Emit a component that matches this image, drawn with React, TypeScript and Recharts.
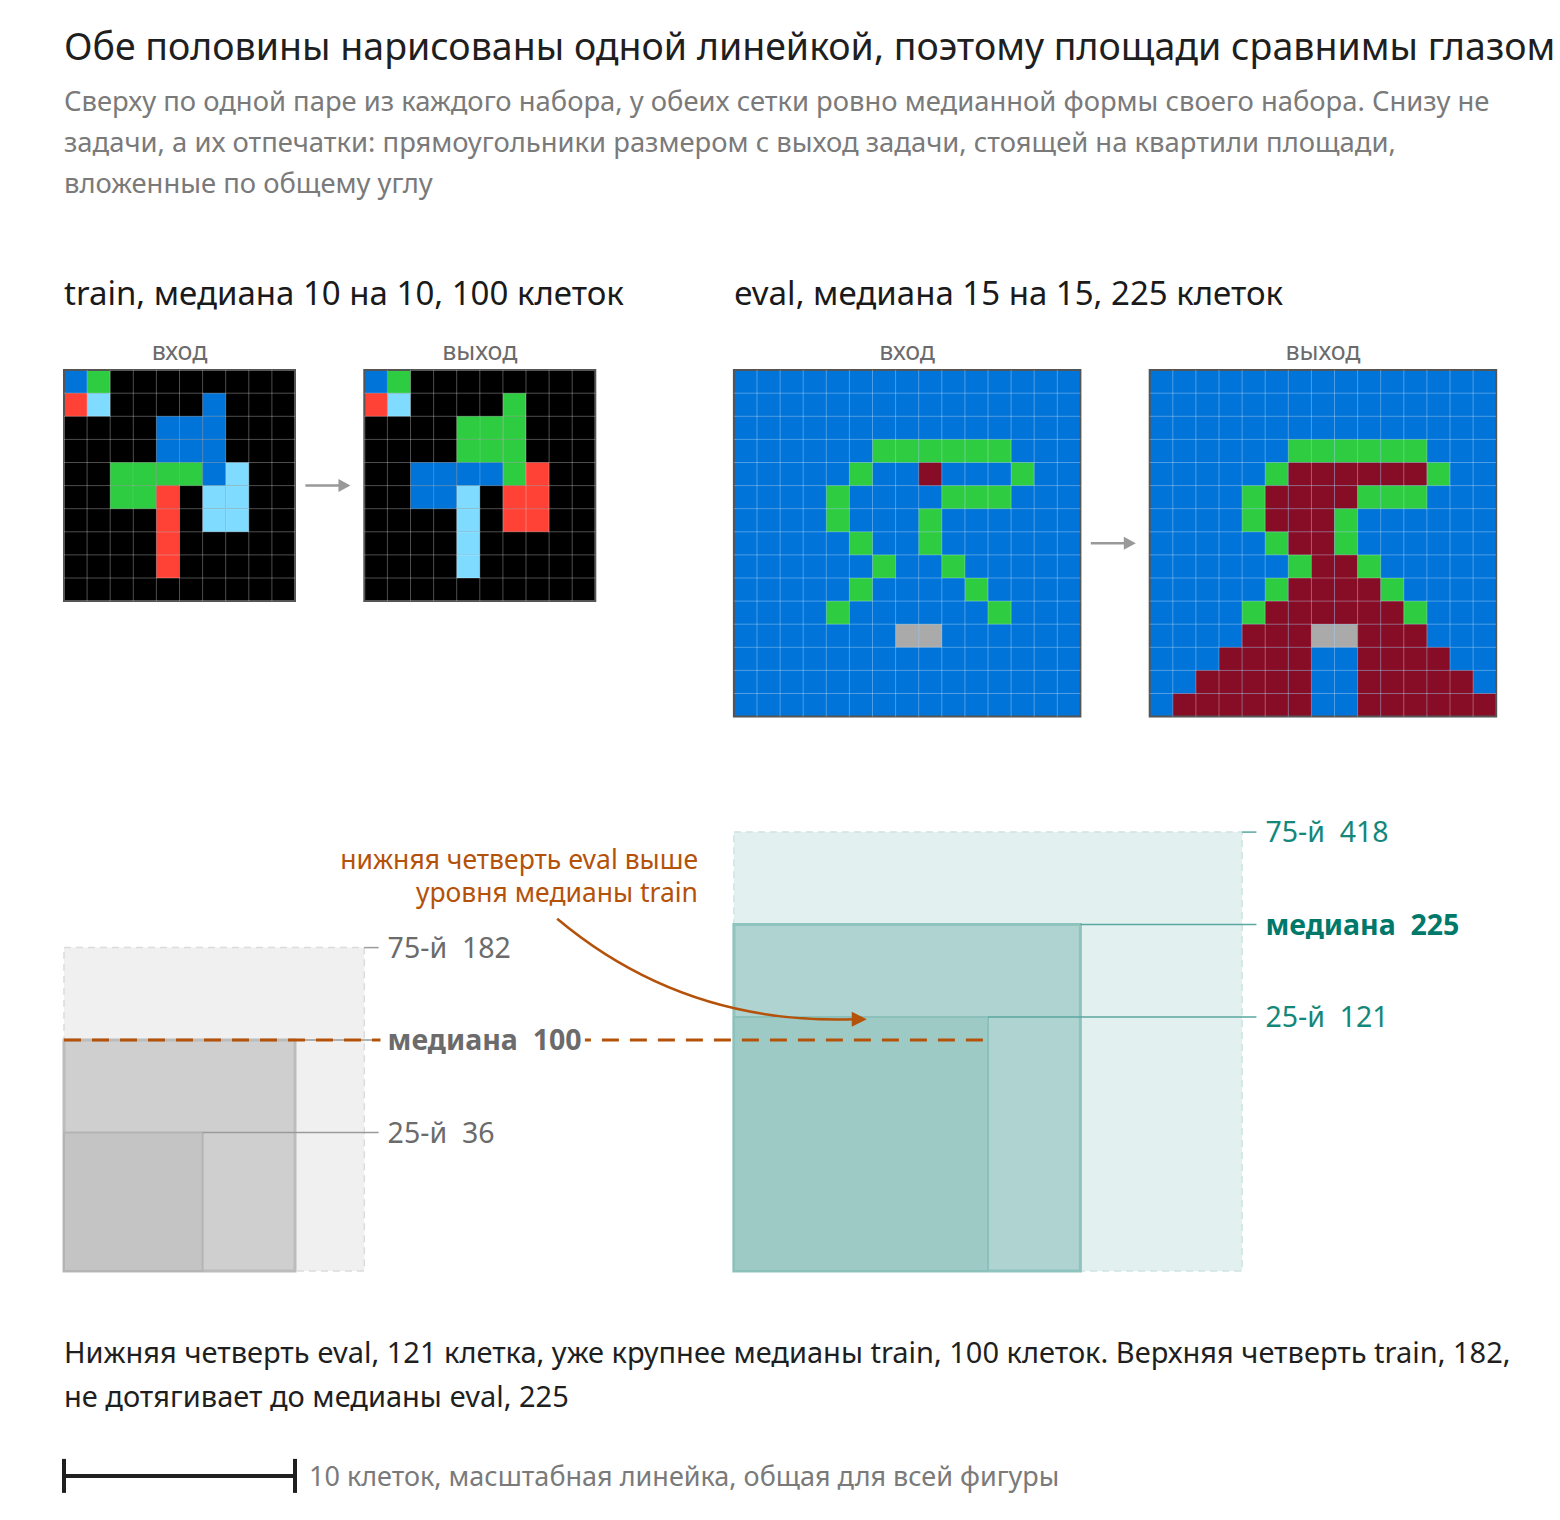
import React from 'react';
import { ComposedChart, XAxis, YAxis, ReferenceArea, ReferenceLine } from 'recharts';

const FONT = '"Noto Sans", "Open Sans", sans-serif';
const W = 1560;
const H = 1520;
const CELL = 23.1; // px per grid cell, one ruler for the whole figure
const LEFT = 64; // px where x = 0
const BASE = 1271; // px where y = 0 (floor of the footprints)

// ARC colour codes
const PALETTE: Record<number, string> = {
  0: '#000000',
  1: '#0074d9',
  2: '#ff4136',
  3: '#2ecc40',
  5: '#aaaaaa',
  8: '#7fdbff',
  9: '#870c25',
};

const trainInput = [
  [1, 3, 0, 0, 0, 0, 0, 0, 0, 0],
  [2, 8, 0, 0, 0, 0, 1, 0, 0, 0],
  [0, 0, 0, 0, 1, 1, 1, 0, 0, 0],
  [0, 0, 0, 0, 1, 1, 1, 0, 0, 0],
  [0, 0, 3, 3, 3, 3, 1, 8, 0, 0],
  [0, 0, 3, 3, 2, 0, 8, 8, 0, 0],
  [0, 0, 0, 0, 2, 0, 8, 8, 0, 0],
  [0, 0, 0, 0, 2, 0, 0, 0, 0, 0],
  [0, 0, 0, 0, 2, 0, 0, 0, 0, 0],
  [0, 0, 0, 0, 0, 0, 0, 0, 0, 0],
];

const trainOutput = [
  [1, 3, 0, 0, 0, 0, 0, 0, 0, 0],
  [2, 8, 0, 0, 0, 0, 3, 0, 0, 0],
  [0, 0, 0, 0, 3, 3, 3, 0, 0, 0],
  [0, 0, 0, 0, 3, 3, 3, 0, 0, 0],
  [0, 0, 1, 1, 1, 1, 3, 2, 0, 0],
  [0, 0, 1, 1, 8, 0, 2, 2, 0, 0],
  [0, 0, 0, 0, 8, 0, 2, 2, 0, 0],
  [0, 0, 0, 0, 8, 0, 0, 0, 0, 0],
  [0, 0, 0, 0, 8, 0, 0, 0, 0, 0],
  [0, 0, 0, 0, 0, 0, 0, 0, 0, 0],
];

const evalInput = [
  [1, 1, 1, 1, 1, 1, 1, 1, 1, 1, 1, 1, 1, 1, 1],
  [1, 1, 1, 1, 1, 1, 1, 1, 1, 1, 1, 1, 1, 1, 1],
  [1, 1, 1, 1, 1, 1, 1, 1, 1, 1, 1, 1, 1, 1, 1],
  [1, 1, 1, 1, 1, 1, 3, 3, 3, 3, 3, 3, 1, 1, 1],
  [1, 1, 1, 1, 1, 3, 1, 1, 9, 1, 1, 1, 3, 1, 1],
  [1, 1, 1, 1, 3, 1, 1, 1, 1, 3, 3, 3, 1, 1, 1],
  [1, 1, 1, 1, 3, 1, 1, 1, 3, 1, 1, 1, 1, 1, 1],
  [1, 1, 1, 1, 1, 3, 1, 1, 3, 1, 1, 1, 1, 1, 1],
  [1, 1, 1, 1, 1, 1, 3, 1, 1, 3, 1, 1, 1, 1, 1],
  [1, 1, 1, 1, 1, 3, 1, 1, 1, 1, 3, 1, 1, 1, 1],
  [1, 1, 1, 1, 3, 1, 1, 1, 1, 1, 1, 3, 1, 1, 1],
  [1, 1, 1, 1, 1, 1, 1, 5, 5, 1, 1, 1, 1, 1, 1],
  [1, 1, 1, 1, 1, 1, 1, 1, 1, 1, 1, 1, 1, 1, 1],
  [1, 1, 1, 1, 1, 1, 1, 1, 1, 1, 1, 1, 1, 1, 1],
  [1, 1, 1, 1, 1, 1, 1, 1, 1, 1, 1, 1, 1, 1, 1],
];

const evalOutput = [
  [1, 1, 1, 1, 1, 1, 1, 1, 1, 1, 1, 1, 1, 1, 1],
  [1, 1, 1, 1, 1, 1, 1, 1, 1, 1, 1, 1, 1, 1, 1],
  [1, 1, 1, 1, 1, 1, 1, 1, 1, 1, 1, 1, 1, 1, 1],
  [1, 1, 1, 1, 1, 1, 3, 3, 3, 3, 3, 3, 1, 1, 1],
  [1, 1, 1, 1, 1, 3, 9, 9, 9, 9, 9, 9, 3, 1, 1],
  [1, 1, 1, 1, 3, 9, 9, 9, 9, 3, 3, 3, 1, 1, 1],
  [1, 1, 1, 1, 3, 9, 9, 9, 3, 1, 1, 1, 1, 1, 1],
  [1, 1, 1, 1, 1, 3, 9, 9, 3, 1, 1, 1, 1, 1, 1],
  [1, 1, 1, 1, 1, 1, 3, 9, 9, 3, 1, 1, 1, 1, 1],
  [1, 1, 1, 1, 1, 3, 9, 9, 9, 9, 3, 1, 1, 1, 1],
  [1, 1, 1, 1, 3, 9, 9, 9, 9, 9, 9, 3, 1, 1, 1],
  [1, 1, 1, 1, 9, 9, 9, 5, 5, 9, 9, 9, 1, 1, 1],
  [1, 1, 1, 9, 9, 9, 9, 1, 1, 9, 9, 9, 9, 1, 1],
  [1, 1, 9, 9, 9, 9, 9, 1, 1, 9, 9, 9, 9, 9, 1],
  [1, 9, 9, 9, 9, 9, 9, 1, 1, 9, 9, 9, 9, 9, 9],
];

// footprints: 25th percentile, median, 75th percentile of output area
const quartileNames = ['25-й', 'медиана', '75-й'];
const trainAreas = [36, 100, 182];
const trainWidths = [6, 10, 13];
const trainHeights = [6, 10, 14];
const evalAreas = [121, 225, 418];
const evalWidths = [11, 15, 22];
const evalHeights = [11, 15, 19];

const scaleCells = 10;

// layout, in cells
const GRID_TOP = 39;
const TRAIN_X = 0;
const EVAL_X = 29;
const PAIR_GAP = 3;
const SCALE_Y = -8.87;

const ORANGE = '#b5520a';

const trainStyle = {
  fills: ['#c4c4c4', '#cfcfcf', '#f0f0f0'],
  strokes: ['#b4b4b4', '#bcbcbc', '#dcdcdc'],
  leader: '#9a9a9a',
  text: '#6b6b6b',
  bold: '#6b6b6b',
};
const evalStyle = {
  fills: ['#9ecac6', '#afd3d1', '#e3f0f0'],
  strokes: ['#8bc0bb', '#8ec3be', '#cfe4e2'],
  leader: '#5aa79f',
  text: '#14877a',
  bold: '#00796b',
};

function mostCommon(cells: number[][]) {
  const counts: Record<number, number> = {};
  cells.flat().forEach((v) => {
    counts[v] = (counts[v] || 0) + 1;
  });
  return Number(Object.keys(counts).sort((a, b) => counts[+b] - counts[+a])[0]);
}

function gridMarks(key: string, cells: number[][], x0: number, caption: string) {
  const n = cells.length;
  const top = GRID_TOP;
  const bottom = GRID_TOP - n;
  const bg = mostCommon(cells);
  const out: React.ReactElement[] = [];
  out.push(
    <ReferenceArea key={`${key}-bg`} x1={x0} x2={x0 + n} y1={bottom} y2={top}
      fill={PALETTE[bg]} fillOpacity={1} stroke="none" ifOverflow="visible" />,
  );
  cells.forEach((row, r) =>
    row.forEach((v, c) => {
      if (v === bg) return;
      out.push(
        <ReferenceArea key={`${key}-${r}-${c}`} x1={x0 + c} x2={x0 + c + 1} y1={top - r - 1} y2={top - r}
          fill={PALETTE[v]} fillOpacity={1} stroke="none" ifOverflow="visible" />,
      );
    }),
  );
  for (let i = 1; i < n; i++) {
    out.push(
      <ReferenceLine key={`${key}-v${i}`} segment={[{ x: x0 + i, y: bottom }, { x: x0 + i, y: top }]}
        stroke="#ffffff" strokeOpacity={0.3} strokeWidth={1} ifOverflow="visible" />,
    );
    out.push(
      <ReferenceLine key={`${key}-h${i}`} segment={[{ x: x0, y: top - i }, { x: x0 + n, y: top - i }]}
        stroke="#ffffff" strokeOpacity={0.3} strokeWidth={1} ifOverflow="visible" />,
    );
  }
  out.push(
    <ReferenceArea key={`${key}-frame`} x1={x0} x2={x0 + n} y1={bottom} y2={top}
      fill="none" fillOpacity={0} stroke="#555555" strokeWidth={2} ifOverflow="visible"
      label={{ value: caption, position: 'top', offset: 10, fill: '#6b6b6b', fontSize: 25, fontFamily: FONT }} />,
  );
  return out;
}

const StepArrow = (p: any) => {
  const { x1, y1, x2, y2 } = p;
  return (
    <g>
      <line x1={x1} y1={y1} x2={x2 - 8} y2={y2} stroke="#999999" strokeWidth={2.5} />
      <path d={`M${x2},${y2} L${x2 - 12},${y2 - 6.5} L${x2 - 12},${y2 + 6.5} Z`} fill="#999999" />
    </g>
  );
};

function pairMarks(key: string, input: number[][], output: number[][], x0: number) {
  const n = input.length;
  const xOut = x0 + n + PAIR_GAP;
  const mid = GRID_TOP - n / 2;
  return [
    ...gridMarks(`${key}-in`, input, x0, 'вход'),
    ...gridMarks(`${key}-out`, output, xOut, 'выход'),
    <ReferenceLine key={`${key}-step`} segment={[{ x: x0 + n + 0.45, y: mid }, { x: xOut - 0.6, y: mid }]}
      shape={StepArrow} ifOverflow="visible" />,
  ];
}

const QuartileLabel = (p: any) => {
  const vb = p.viewBox || {};
  return (
    <text x={vb.x + vb.width + 9} y={vb.y} dy="0.36em" fill={p.color} fontSize={28.5}
      fontWeight={p.bold ? 700 : 400} fontFamily={FONT}>
      {`${p.name}\u00a0\u00a0${p.area}`}
    </text>
  );
};

function footprintMarks(key: string, x0: number, widths: number[], heights: number[], areas: number[], style: typeof trainStyle) {
  const out: React.ReactElement[] = [];
  const maxW = Math.max(...widths);
  [2, 1, 0].forEach((i) => {
    out.push(
      <ReferenceArea key={`${key}-r${i}`} x1={x0} x2={x0 + widths[i]} y1={0} y2={heights[i]}
        fill={style.fills[i]} fillOpacity={1} stroke={style.strokes[i]}
        strokeWidth={i === 2 ? 1.5 : i === 1 ? 3 : 2} strokeDasharray={i === 2 ? '7 5' : undefined}
        ifOverflow="visible" />,
    );
  });
  [0, 1, 2].forEach((i) => {
    out.push(
      <ReferenceLine key={`${key}-l${i}`}
        segment={[{ x: x0 + widths[i], y: heights[i] }, { x: x0 + maxW + 0.62, y: heights[i] }]}
        stroke={style.leader} strokeWidth={1.5} ifOverflow="visible"
        label={<QuartileLabel name={quartileNames[i]} area={areas[i]} bold={i === 1}
          color={i === 1 ? style.bold : style.text} />} />,
    );
  });
  return out;
}

const CurvedArrow = (p: any) => {
  const { x1, y1, x2, y2 } = p;
  const cx = x1 + 0.41 * (x2 - x1);
  const cy = y2 + 6;
  const end = x2 - 12;
  return (
    <g>
      <path d={`M${x1},${y1} Q${cx},${cy} ${end},${y2}`} fill="none" stroke={ORANGE} strokeWidth={2.5} />
      <path d={`M${x2},${y2} L${x2 - 15},${y2 - 7.5} L${x2 - 15},${y2 + 7.5} Z`} fill={ORANGE} />
    </g>
  );
};

const ScaleBar = (p: any) => {
  const { x1, y1, x2, y2 } = p;
  return (
    <g stroke="#1f1f1f" strokeWidth={4}>
      <line x1={x1} y1={y1} x2={x2} y2={y2} />
      <line x1={x1} y1={y1 - 17} x2={x1} y2={y1 + 17} />
      <line x1={x2} y1={y2 - 17} x2={x2} y2={y2 + 17} />
    </g>
  );
};

const px = (x: number) => LEFT + x * CELL;

export default function App() {
  const trainMedian = trainHeights[1];
  const evalLowEdge = EVAL_X + evalWidths[0];
  return (
    <div style={{ position: 'absolute', left: 0, top: 0, width: W, height: H, background: '#ffffff' }}>
      <ComposedChart width={W} height={H} margin={{ top: 0, right: 0, bottom: 0, left: 0 }}>
        <XAxis type="number" dataKey="x" hide allowDataOverflow
          domain={[-LEFT / CELL, (W - LEFT) / CELL]} />
        <YAxis type="number" hide allowDataOverflow
          domain={[(BASE - H) / CELL, BASE / CELL]} />

        {pairMarks('train', trainInput, trainOutput, TRAIN_X)}
        {pairMarks('eval', evalInput, evalOutput, EVAL_X)}

        {footprintMarks('trainfp', TRAIN_X, trainWidths, trainHeights, trainAreas, trainStyle)}
        {footprintMarks('evalfp', EVAL_X, evalWidths, evalHeights, evalAreas, evalStyle)}

        <ReferenceLine segment={[{ x: TRAIN_X, y: trainMedian }, { x: 13.7, y: trainMedian }]}
          stroke={ORANGE} strokeWidth={3} strokeDasharray="17 11" ifOverflow="visible" />
        <ReferenceLine segment={[{ x: 22.55, y: trainMedian }, { x: evalLowEdge, y: trainMedian }]}
          stroke={ORANGE} strokeWidth={3} strokeDasharray="17 11" strokeDashoffset={11} ifOverflow="visible" />
        <ReferenceLine segment={[{ x: 21.35, y: 15.25 }, { x: EVAL_X + 5.75, y: evalHeights[0] - 0.1 }]}
          shape={CurvedArrow} ifOverflow="visible" />

        <ReferenceLine segment={[{ x: 0, y: SCALE_Y }, { x: scaleCells, y: SCALE_Y }]}
          shape={ScaleBar} ifOverflow="visible" />
      </ComposedChart>

      <svg width={W} height={H} style={{ position: 'absolute', left: 0, top: 0, pointerEvents: 'none' }}
        fontFamily={FONT}>
        <text x={64} y={60} fontSize={37.5} fill="#1f1f1f">
          Обе половины нарисованы одной линейкой, поэтому площади сравнимы глазом
        </text>
        <g fontSize={27.4} fill="#7a7a7a">
          <text x={64} y={111}>
            Сверху по одной паре из каждого набора, у обеих сетки ровно медианной формы своего набора. Снизу не
          </text>
          <text x={64} y={152}>
            задачи, а их отпечатки: прямоугольники размером с выход задачи, стоящей на квартили площади,
          </text>
          <text x={64} y={193}>вложенные по общему углу</text>
        </g>
        <text x={px(TRAIN_X)} y={305} fontSize={33} fill="#1a1a1a">
          {`train, медиана ${trainWidths[1]} на ${trainHeights[1]}, ${trainAreas[1]} клеток`}
        </text>
        <text x={px(EVAL_X)} y={305} fontSize={33} fill="#1a1a1a">
          {`eval, медиана ${evalWidths[1]} на ${evalHeights[1]}, ${evalAreas[1]} клеток`}
        </text>
        <g fontSize={26.5} fill={ORANGE} textAnchor="end">
          <text x={698} y={869}>нижняя четверть eval выше</text>
          <text x={698} y={902}>уровня медианы train</text>
        </g>
        <g fontSize={29} fill="#1f1f1f">
          <text x={64} y={1363}>
            Нижняя четверть eval, 121 клетка, уже крупнее медианы train, 100 клеток. Верхняя четверть train, 182,
          </text>
          <text x={64} y={1407}>не дотягивает до медианы eval, 225</text>
        </g>
        <text x={309} y={1486} fontSize={27} fill="#7a7a7a">
          10 клеток, масштабная линейка, общая для всей фигуры
        </text>
      </svg>
    </div>
  );
}
